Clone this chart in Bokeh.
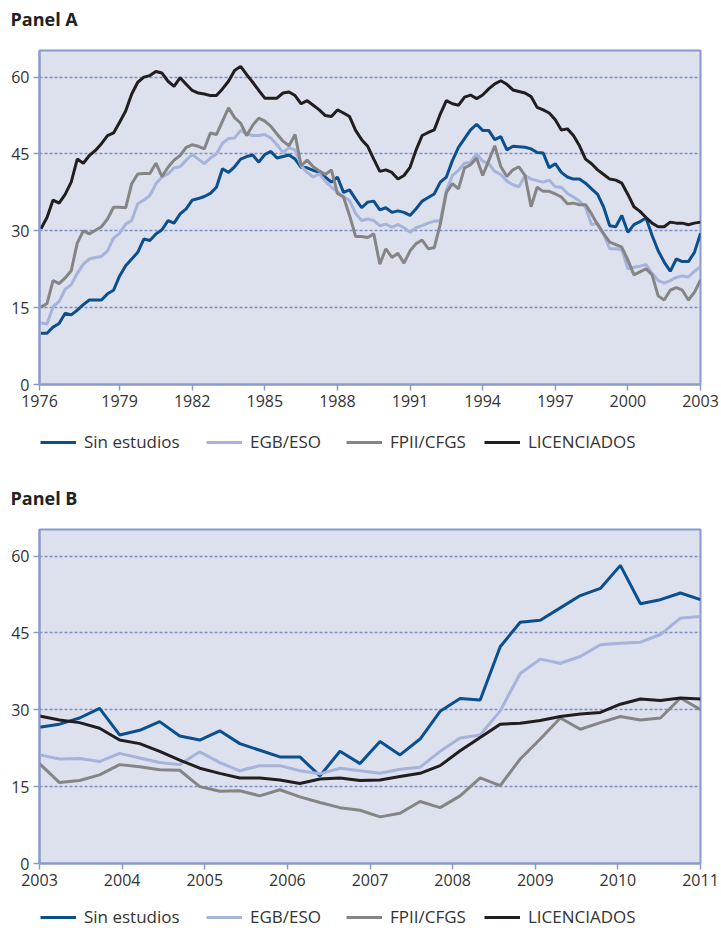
from bokeh.plotting import figure
from bokeh.layouts import column
from bokeh.models import FixedTicker, Legend, LegendItem, LinearAxis
from bokeh.embed import file_html
from bokeh.resources import INLINE

# ---------------- data ----------------
names = ["Sin estudios", "EGB/ESO", "FPII/CFGS", "LICENCIADOS"]
colors = ["#0b4f8f", "#a6b3da", "#858585", "#221e1f"]

# Panel A: quarterly, first quarter 1975.75
a_start = 1975.75
a_step = 0.25
a_sin = [10.0, 10.0, 11.2, 11.9, 13.9, 13.6, 14.5, 15.6, 16.5, 16.5,
         16.5, 17.7, 18.4, 21.2, 23.2, 24.5, 25.8, 28.4, 28.1, 29.4,
         30.2, 32.0, 31.5, 33.3, 34.3, 36.0, 36.3, 36.7, 37.3, 38.5,
         42.1, 41.4, 42.5, 44.0, 44.5, 44.8, 43.4, 44.9, 45.5, 44.2,
         44.5, 44.8, 44.0, 42.4, 42.3, 41.8, 41.4, 40.5, 39.5, 40.5,
         37.5, 38.0, 36.2, 34.5, 35.6, 35.8, 34.1, 34.5, 33.6, 33.9,
         33.6, 33.0, 34.3, 35.8, 36.5, 37.2, 39.5, 40.5, 43.7, 46.3,
         48.0, 49.7, 50.8, 49.6, 49.6, 47.8, 48.4, 45.8, 46.5, 46.4,
         46.3, 46.0, 45.3, 45.2, 42.3, 43.1, 41.4, 40.5, 40.1, 40.1,
         39.3, 38.2, 37.1, 34.6, 31.0, 30.8, 33.0, 29.7, 31.2, 31.8,
         32.5, 29.1, 26.1, 23.9, 22.1, 24.5, 24.0, 24.0, 25.8, 29.5]
a_egb = [12.0, 11.8, 15.2, 16.2, 18.6, 19.5, 21.7, 23.5, 24.5, 24.8,
         25.0, 26.1, 28.6, 29.5, 31.3, 32.0, 35.3, 36.0, 36.9, 39.2,
         40.5, 41.1, 42.3, 42.5, 43.8, 44.9, 44.0, 43.1, 44.2, 45.0,
         47.1, 48.0, 48.1, 49.6, 48.9, 48.6, 48.6, 48.8, 48.1, 46.8,
         45.3, 46.2, 45.8, 42.7, 41.4, 40.5, 41.1, 39.7, 38.5, 37.6,
         36.7, 35.9, 33.4, 32.0, 32.3, 32.0, 31.0, 31.3, 30.7, 31.2,
         30.6, 29.7, 30.6, 31.0, 31.5, 31.9, 31.9, 37.9, 40.8, 41.8,
         43.2, 43.4, 45.0, 43.6, 43.1, 41.6, 41.0, 39.7, 39.0, 38.6,
         40.8, 40.1, 39.8, 39.5, 39.9, 38.6, 38.5, 37.3, 36.6, 35.8,
         34.6, 31.2, 31.5, 29.3, 26.5, 26.5, 26.3, 22.6, 22.9, 23.1,
         23.4, 21.7, 20.3, 19.8, 20.3, 20.9, 21.2, 21.0, 22.1, 23.0]
a_fp = [15.1, 15.8, 20.3, 19.7, 20.8, 22.2, 27.6, 30.0, 29.4, 30.1,
        30.8, 32.3, 34.6, 34.6, 34.5, 39.2, 41.1, 41.2, 41.2, 43.2,
        40.6, 42.4, 43.8, 44.7, 46.3, 46.8, 46.5, 46.0, 49.1, 48.8,
        51.4, 54.0, 52.1, 51.0, 48.6, 50.6, 52.0, 51.4, 50.4, 48.9,
        47.5, 46.6, 48.8, 42.7, 43.8, 42.5, 41.7, 41.0, 41.9, 37.3,
        36.6, 33.0, 28.9, 28.9, 28.7, 29.4, 23.5, 26.5, 24.8, 25.6,
        23.7, 26.1, 27.5, 28.2, 26.5, 26.7, 31.3, 37.5, 39.2, 38.2,
        42.3, 42.9, 44.2, 40.8, 43.7, 46.6, 42.5, 40.6, 41.9, 42.5,
        40.8, 34.7, 38.5, 37.7, 37.7, 37.2, 36.6, 35.3, 35.4, 35.1,
        35.1, 33.3, 31.2, 29.4, 27.8, 27.3, 26.8, 24.3, 21.4, 22.0,
        22.6, 21.4, 17.3, 16.5, 18.4, 18.9, 18.4, 16.5, 18.0, 20.4]
a_lic = [30.4, 32.6, 36.0, 35.4, 37.1, 39.5, 44.0, 43.2, 44.7, 45.7,
         47.0, 48.6, 49.1, 51.2, 53.4, 56.7, 59.0, 60.0, 60.3, 61.1,
         60.8, 59.2, 58.2, 59.9, 58.6, 57.4, 56.9, 56.7, 56.4, 56.4,
         57.7, 59.2, 61.3, 62.1, 60.5, 59.0, 57.4, 55.9, 55.9, 55.9,
         56.9, 57.1, 56.4, 54.8, 55.4, 54.5, 53.6, 52.5, 52.3, 53.6,
         53.0, 52.3, 49.6, 47.8, 46.5, 44.0, 41.6, 41.9, 41.4, 40.1,
         40.8, 42.4, 45.8, 48.6, 49.2, 49.7, 52.8, 55.4, 54.8, 54.5,
         56.1, 56.5, 55.8, 56.5, 57.7, 58.7, 59.3, 58.6, 57.5, 57.2,
         56.9, 56.2, 54.1, 53.6, 53.0, 51.7, 49.7, 49.9, 48.6, 46.6,
         44.0, 43.1, 41.9, 41.0, 40.1, 39.9, 39.3, 37.1, 34.7, 33.8,
         32.6, 31.5, 30.8, 30.8, 31.7, 31.5, 31.5, 31.2, 31.5, 31.7]
a_left_edge = 1975.69
a_right_edge = 2003.0
a_ticks = [a_left_edge, 1979, 1982, 1985, 1988, 1991, 1994, 1997, 2000, a_right_edge]
a_tick_labels = {a_left_edge: "1976", a_right_edge: "2003"}

# Panel B: 34 observations spread from 2003 to 2011
b_start = 2003.0
b_end = 2011.0
b_sin = [26.6, 27.2, 28.4, 30.3, 25.1, 26.0, 27.7, 24.9, 24.1, 25.9,
         23.4, 22.1, 20.8, 20.8, 17.1, 21.9, 19.5, 23.8, 21.2, 24.3,
         29.7, 32.2, 31.9, 42.3, 47.1, 47.5, 49.9, 52.3, 53.7, 58.2,
         50.7, 51.5, 52.8, 51.5]
b_egb = [21.2, 20.4, 20.5, 19.9, 21.5, 20.6, 19.7, 19.3, 21.8, 19.7,
         18.1, 19.1, 19.1, 18.1, 17.5, 18.6, 18.1, 17.6, 18.4, 18.8,
         21.9, 24.5, 25.1, 29.8, 37.1, 39.9, 39.1, 40.4, 42.7, 43.0,
         43.2, 44.7, 47.9, 48.2]
b_fp = [19.5, 15.8, 16.2, 17.3, 19.3, 18.9, 18.3, 18.2, 15.0, 14.1,
        14.2, 13.2, 14.4, 13.0, 11.9, 10.9, 10.4, 9.1, 9.8, 12.1,
        10.9, 13.2, 16.7, 15.2, 20.4, 24.3, 28.4, 26.2, 27.5, 28.7,
        28.0, 28.4, 32.3, 30.0]
b_lic = [28.8, 28.0, 27.5, 26.4, 24.1, 23.4, 21.9, 20.2, 18.6, 17.6,
         16.7, 16.7, 16.3, 15.6, 16.5, 16.7, 16.2, 16.3, 17.0, 17.6,
         19.1, 22.0, 24.6, 27.2, 27.4, 27.9, 28.7, 29.2, 29.5, 31.1,
         32.1, 31.8, 32.3, 32.1]
b_ticks = [2003, 2004, 2005, 2006, 2007, 2008, 2009, 2010, 2011]

y_ticks = [0, 15, 30, 45, 60]
y_max = 65.2

FONT = "Open Sans"
AXIS_COL = "#8a9acb"
TEXT_COL = "#333333"
W = 721
legend_x = [1, 167, 307, 445]


def make_panel(title, xs, series, x_range, ticks, overrides, height,
               border_top, border_bottom, gap):
    p = figure(width=W, height=height, x_range=x_range, y_range=(0, y_max),
               output_backend="svg", toolbar_location=None,
               min_border_left=39, min_border_right=21,
               min_border_top=border_top, min_border_bottom=border_bottom)
    p.title.text = title
    p.title.text_font = FONT
    p.title.text_font_style = "bold"
    p.title.text_font_size = "18px"
    p.title.text_color = "#222222"
    p.title.align = "left"
    p.title.offset = -29
    p.title.standoff = 0

    p.background_fill_color = "#dde1ee"
    p.border_fill_color = "white"
    p.outline_line_color = AXIS_COL
    p.outline_line_width = 2

    p.xgrid.visible = False
    p.ygrid.grid_line_color = "#7d8ec6"
    p.ygrid.grid_line_dash = "3 2"
    p.ygrid.grid_line_width = 1.3

    xaxis = p.below[0]
    yaxis = p.left[0]
    xaxis.ticker = FixedTicker(ticks=ticks)
    if overrides:
        xaxis.major_label_overrides = overrides
    yaxis.ticker = FixedTicker(ticks=y_ticks)
    for ax in (xaxis, yaxis):
        ax.axis_line_color = AXIS_COL
        ax.axis_line_width = 2
        ax.major_tick_line_color = AXIS_COL
        ax.major_tick_line_width = 1.5
        ax.major_tick_out = 6
        ax.major_tick_in = 0
        ax.minor_tick_line_color = None
        ax.major_label_text_font = FONT
        ax.major_label_text_font_size = "16px"
        ax.major_label_text_color = TEXT_COL
        ax.major_label_standoff = 4

    # invisible axis above the frame (one unlabelled, undrawn tick):
    # it only reserves room so that the title sits higher
    inner_tick = ticks[1]
    spacer = LinearAxis(ticker=FixedTicker(ticks=[inner_tick]),
                        major_label_overrides={inner_tick: ""},
                        major_tick_out=gap, major_tick_in=0,
                        axis_line_color=None, major_tick_line_color=None,
                        minor_tick_line_color=None, major_label_standoff=0)
    p.add_layout(spacer, "above")

    for col, ys in zip(colors, series):
        p.line(xs, ys, line_color=col, line_width=3)
    return p


def make_legend(height, y_off, xs, series):
    # strip holding the legend; its lines fall outside its ranges
    q = figure(width=W, height=height, x_range=(0, 1), y_range=(0, 1),
               output_backend="svg", toolbar_location=None, min_border=0,
               x_axis_type=None, y_axis_type=None)
    q.outline_line_color = None
    q.background_fill_color = "white"
    q.border_fill_color = "white"
    for name, col, xpos, ys in zip(names, colors, legend_x, series):
        r = q.line(xs, ys, line_color=col, line_width=3)
        lg = Legend(items=[LegendItem(label=name, renderers=[r])],
                    location=(xpos, y_off),
                    glyph_width=36, glyph_height=18, label_standoff=8,
                    padding=0, margin=0,
                    border_line_color=None, background_fill_alpha=0,
                    label_text_font=FONT, label_text_font_size="17px",
                    label_text_color=TEXT_COL)
        q.add_layout(lg)
    return q


xa = [a_start + a_step * i for i in range(len(a_sin))]
nb = len(b_sin)
xb = [b_start + (b_end - b_start) * i / (nb - 1) for i in range(nb)]

series_a = [a_sin, a_egb, a_fp, a_lic]
series_b = [b_sin, b_egb, b_fp, b_lic]

pa = make_panel("Panel A", xa, series_a,
                (a_left_edge, a_right_edge), a_ticks, a_tick_labels,
                416, 50, 32, 20)
la = make_legend(48, 11, xa, series_a)
pb = make_panel("Panel B", xb, series_b,
                (b_start, b_end), b_ticks, None,
                431, 65, 32, 20)
lb = make_legend(33, 0, xb, series_b)

layout = column(pa, la, pb, lb, spacing=0)
open("out.html", "w").write(file_html(layout, INLINE))
